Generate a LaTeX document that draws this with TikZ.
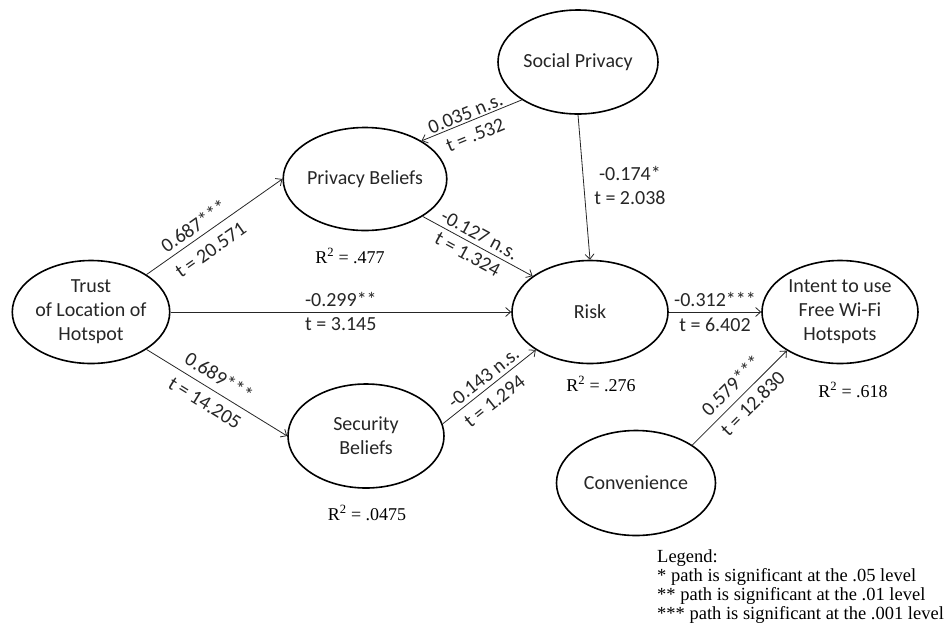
\documentclass[tikz,border=0pt]{standalone}
\usepackage{fontspec}
\setmainfont{Carlito}[Ligatures=NoCommon]
\newfontfamily\timesfont{Liberation Serif}
\usetikzlibrary{arrows.meta,shapes.geometric}
\begin{document}
\begin{tikzpicture}[x=1pt,y=-1pt,
  latent/.style={ellipse, draw=black, line width=1.6pt, inner sep=0pt,
    minimum width=156pt, minimum height=103pt, align=center,
    font=\fontsize{20}{24}\selectfont, text=black!85},
  pathline/.style={draw=black!85, line width=0.8pt,
    -{Straight Barb[length=5pt,width=9pt]}},
  revline/.style={draw=black!85, line width=0.8pt,
    {Straight Barb[length=5pt,width=9pt]}-},
  coef/.style={font=\fontsize{20}{24}\selectfont, text=black!85, inner sep=4pt, sloped},
  rsq/.style={font=\timesfont\fontsize{18}{20}\selectfont, inner sep=0pt},
]
\useasboundingbox (0,0) rectangle (946,633);

\node[latent] (trust) at (91,312) {Trust\\of Location of\\Hotspot};
\node[latent] (pb) at (365,179) {Privacy Beliefs};
\node[latent, minimum width=160pt, minimum height=104pt] (social) at (578,62) {Social Privacy};
\node[latent] (risk) at (590,312) {Risk};
\node[latent] (intent) at (840,312) {Intent to use\\Free Wi-Fi\\Hotspots};
\node[latent, minimum height=104pt] (sec) at (366,436) {Security\\Beliefs};
\node[latent, minimum width=159pt, minimum height=105pt] (conv) at (636,483) {Convenience};

% R squared
\node[rsq] (r1) at (350,256) {R\textsuperscript{2} = .477};
\node[rsq] (r2) at (601,384) {R\textsuperscript{2} = .276};
\node[rsq] (r3) at (853,390) {R\textsuperscript{2} = .618};
\node[rsq] (r4) at (367,513) {R\textsuperscript{2} = .0475};

% paths
\draw[pathline] (trust.34) -- (pb.west)
  node[coef, above, pos=0.40, inner sep=4.9pt] {0.687***}
  node[coef, below, pos=0.40, inner sep=10pt] {t = 20.571};
\draw[pathline] (trust.-34) -- (sec.west)
  node[coef, above, pos=0.46, inner sep=7.4pt] {0.689***}
  node[coef, below, pos=0.47, inner sep=8pt] {t = 14.205};
\draw[pathline] (trust.east) -- (risk.west)
  node[coef, above, pos=0.5, inner sep=4.6pt] {-0.299**}
  node[coef, below, pos=0.5, inner sep=5.6pt] {t = 3.145};
\draw[revline] (pb.34) -- (social.214)
  node[coef, above, pos=0.47, inner sep=1.6pt] {0.035 n.s.}
  node[coef, below, pos=0.48, inner sep=8pt] {t = .532};
\draw[pathline] (pb.-33) -- (risk.148)
  node[coef, above, pos=0.47, inner sep=4.2pt] {-0.127 n.s.}
  node[coef, below, pos=0.46, inner sep=4.8pt] {t = 1.324};
\draw[pathline] (sec.9) -- (risk.-145)
  node[coef, above, pos=0.51, inner sep=3.8pt] {-0.143 n.s.}
  node[coef, below, pos=0.46, inner sep=7.6pt] {t = 1.294};
\draw[pathline] (social.south) -- (risk.north)
  node[pos=0.49, right=9pt, align=center, font=\fontsize{20}{24}\selectfont, text=black!85, inner sep=1pt] {-0.174*\\t = 2.038};
\draw[pathline] (risk.east) -- (intent.west)
  node[coef, above, pos=0.5, inner sep=4.6pt] {-0.312***}
  node[coef, below, pos=0.5, inner sep=5.6pt] {t = 6.402};
\draw[pathline] (conv.34) -- (intent.216)
  node[coef, above, pos=0.52, inner sep=7.2pt] {0.579***}
  node[coef, below, pos=0.54, inner sep=6pt] {t = 12.830};

% legend
\node[anchor=north west, align=left, inner sep=0pt,
  font=\timesfont\fontsize{18.5}{19}\selectfont] (legend) at (657,549)
  {Legend:\\
   * path is significant at the .05 level\\
   ** path is significant at the .01 level\\
   *** path is significant at the .001 level};
\end{tikzpicture}
\end{document}
